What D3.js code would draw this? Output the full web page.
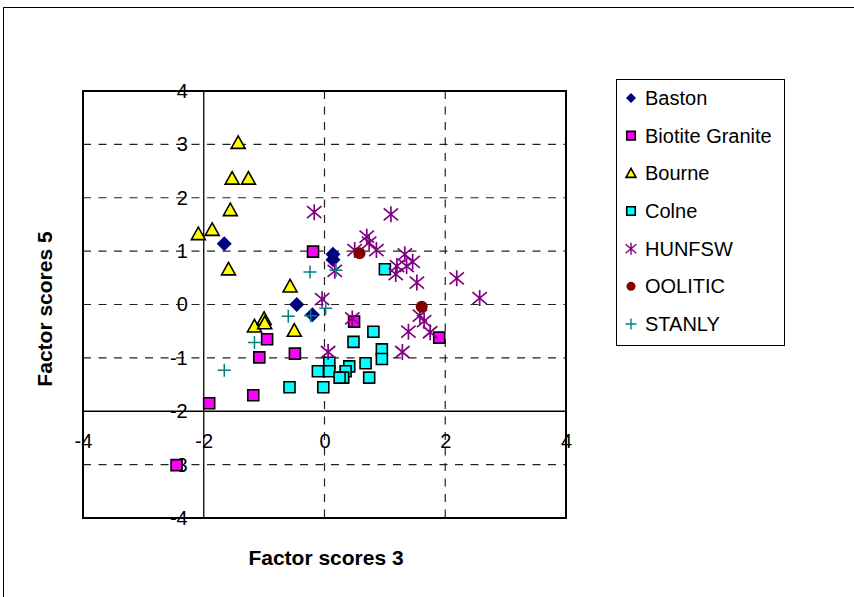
<!DOCTYPE html>
<html>
<head>
<meta charset="utf-8">
<script src="https://cdn.jsdelivr.net/npm/d3@7"></script>
<style>
  html, body { margin: 0; padding: 0; background: #fff; }
  svg { display: block; font-family: Arial, "Liberation Sans", sans-serif; }
</style>
</head>
<body>
<svg id="chart" width="854" height="597"></svg>
<script>
// Factor score pairs [factor 3, factor 5] for each group
const baston = [[-1.66, 1.14], [-0.46, 0.0], [-0.2, -0.19], [0.14, 0.94], [0.14, 0.84]];
const biotiteGranite = [[-0.19, 0.99], [0.49, -0.32], [-0.95, -0.65], [-1.08, -0.99], [-0.49, -0.92],
  [-1.18, -1.70], [-1.91, -1.85], [-2.45, -3.01], [1.90, -0.62]];
const bourne = [[-1.43, 3.03], [-1.53, 2.36], [-1.26, 2.36], [-1.56, 1.77], [-1.86, 1.40], [-2.09, 1.32],
  [-1.59, 0.66], [-0.57, 0.34], [-1.16, -0.41], [-1.0, -0.27], [-0.99, -0.35], [-0.5, -0.49]];
const colne = [[1.0, 0.66], [0.81, -0.51], [0.48, -0.70], [0.95, -0.84], [0.95, -1.02], [0.68, -1.10],
  [0.74, -1.37], [0.08, -1.09], [0.08, -1.25], [-0.11, -1.25], [0.41, -1.16], [0.35, -1.25],
  [0.31, -1.37], [0.25, -1.37], [-0.02, -1.55], [-0.58, -1.55]];
const hunfsw = [[-0.17, 1.73], [1.10, 1.69], [0.70, 1.27], [0.74, 1.16], [0.86, 1.02], [0.50, 1.02],
  [1.33, 0.94], [1.46, 0.80], [1.20, 0.72], [1.36, 0.72], [1.18, 0.57], [1.53, 0.41], [2.19, 0.49],
  [2.57, 0.12], [-0.04, 0.10], [0.17, 0.63], [0.46, -0.26], [1.58, -0.21], [1.65, -0.31],
  [1.39, -0.51], [1.75, -0.52], [1.29, -0.89], [0.06, -0.89]];
const oolitic = [[0.58, 0.96], [1.61, -0.04]];
const stanly = [[-0.24, 0.61], [0.19, 0.64], [0.02, -0.07], [-0.6, -0.22], [-0.23, -0.21],
  [-1.16, -0.71], [-1.66, -1.23]];

const seriesNames = ["Baston", "Biotite Granite", "Bourne", "Colne", "HUNFSW", "OOLITIC", "STANLY"];
const seriesValues = [baston, biotiteGranite, bourne, colne, hunfsw, oolitic, stanly];
const xTicks = [-4, -2, 0, 2, 4];
const yTicks = [-4, -3, -2, -1, 0, 1, 2, 3, 4];

// Marker styles per group
const styles = [
  { shape: "diamond", fill: "#000080", stroke: "none" },
  { shape: "square", fill: "#FF00FF", stroke: "#000" },
  { shape: "triangle", fill: "#FFFF00", stroke: "#000" },
  { shape: "square", fill: "#00FFFF", stroke: "#000" },
  { shape: "star", fill: "none", stroke: "#800080" },
  { shape: "circle", fill: "#800000", stroke: "none" },
  { shape: "plus", fill: "none", stroke: "#008080" }
];

function markerPath(shape, s) {
  const h = s / 2;
  switch (shape) {
    case "diamond": return `M0,${-h}L${h},0L0,${h}L${-h},0Z`;
    case "square": return `M${-h},${-h}H${h}V${h}H${-h}Z`;
    case "triangle": return `M0,${-h}L${h},${h * 0.8}L${-h},${h * 0.8}Z`;
    case "circle": return `M${h},0A${h},${h} 0 1,1 ${-h},0A${h},${h} 0 1,1 ${h},0Z`;
    case "plus": return `M${-h},0H${h}M0,${-h}V${h}`;
    case "star": {
      const d = h * 0.9;
      return `M0,${-h}V${h}M${-d},${-h * 0.75}L${d},${h * 0.75}M${-d},${h * 0.75}L${d},${-h * 0.75}`;
    }
  }
}
const markerSize = { diamond: 15, square: 11, triangle: 14, circle: 12, plus: 13, star: 16 };
const legendSize = { diamond: 10, square: 8.5, triangle: 10, circle: 9, plus: 11, star: 12 };
const strokeW = { diamond: 0, square: 1.6, triangle: 1.6, circle: 0, plus: 1.5, star: 1.7 };

const svg = d3.select("#chart");
const fmt = d => String(d);

// Outer chart frame
svg.append("rect").attr("x", 3.5).attr("y", 7.5).attr("width", 900).attr("height", 700)
  .attr("fill", "none").attr("stroke", "#000").attr("stroke-width", 1);

const x = d3.scaleLinear().domain([-4, 4]).range([83, 566]);
const y = d3.scaleLinear().domain([-4, 4]).range([518, 91]);

// Dashed gridlines
const grid = svg.append("g").attr("stroke", "#222").attr("stroke-width", 1.2)
  .attr("stroke-dasharray", "8,7.5");
grid.selectAll("line.h").data(yTicks.filter(v => v !== -4 && v !== 4 && v !== -2)).join("line")
  .attr("x1", x(-4)).attr("x2", x(4)).attr("y1", d => y(d)).attr("y2", d => y(d));
grid.selectAll("line.v").data(xTicks.filter(v => v === 0 || v === 2)).join("line")
  .attr("class", "v")
  .attr("y1", y(4)).attr("y2", y(-4)).attr("x1", d => x(d)).attr("x2", d => x(d));

// Axis lines crossing at (-2, -2)
svg.append("line").attr("x1", x(-4)).attr("x2", x(4)).attr("y1", y(-2)).attr("y2", y(-2))
  .attr("stroke", "#000").attr("stroke-width", 1.3);
svg.append("line").attr("x1", x(-2)).attr("x2", x(-2)).attr("y1", y(4)).attr("y2", y(-4))
  .attr("stroke", "#000").attr("stroke-width", 1.3);

// Plot border
svg.append("rect").attr("x", x(-4)).attr("y", y(4)).attr("width", x(4) - x(-4)).attr("height", y(-4) - y(4))
  .attr("fill", "none").attr("stroke", "#000").attr("stroke-width", 2);

// Tick labels
const yAxis = d3.axisLeft(y).tickValues(yTicks).tickSize(0).tickPadding(16).tickFormat(fmt);
const yg = svg.append("g").attr("transform", `translate(${x(-2)},0)`).call(yAxis);
yg.select(".domain").remove();
yg.selectAll("text").attr("font-size", 20).attr("fill", "#000")
  .attr("font-family", "Arial, 'Liberation Sans', sans-serif");

const xAxis = d3.axisBottom(x).tickValues(xTicks).tickSize(0).tickPadding(23).tickFormat(fmt);
const xg = svg.append("g").attr("transform", `translate(0,${y(-2)})`).call(xAxis);
xg.select(".domain").remove();
xg.selectAll("text").attr("font-size", 20).attr("fill", "#000")
  .attr("font-family", "Arial, 'Liberation Sans', sans-serif");

// Axis titles
svg.append("text").attr("x", 326).attr("y", 565).attr("text-anchor", "middle")
  .attr("font-size", 21).attr("font-weight", "bold").text("Factor scores 3");
svg.append("text").attr("transform", "translate(52,309) rotate(-90)").attr("text-anchor", "middle")
  .attr("font-size", 21).attr("font-weight", "bold").text("Factor scores 5");

// Points
seriesValues.forEach((pts, i) => {
  const st = styles[i];
  svg.append("g").selectAll("path").data(pts).join("path")
    .attr("transform", d => `translate(${x(d[0])},${y(d[1])})`)
    .attr("d", markerPath(st.shape, markerSize[st.shape]))
    .attr("fill", st.fill).attr("stroke", st.stroke)
    .attr("stroke-width", strokeW[st.shape]);
});

// Legend
const legend = svg.append("g");
legend.append("rect").attr("x", 616.5).attr("y", 79.5).attr("width", 168).attr("height", 266)
  .attr("fill", "#fff").attr("stroke", "#000").attr("stroke-width", 1);
const rowY = d3.scalePoint().domain(seriesNames).range([98, 324]);
seriesNames.forEach((name, i) => {
  const st = styles[i];
  const g = legend.append("g").attr("transform", `translate(631,${rowY(name)})`);
  g.append("path").attr("d", markerPath(st.shape, legendSize[st.shape]))
    .attr("fill", st.fill).attr("stroke", st.stroke)
    .attr("stroke-width", st.shape === "plus" || st.shape === "star" ? 1.4 : strokeW[st.shape]);
  g.append("text").attr("x", 14).attr("y", 7).attr("font-size", 20).text(name);
});
</script>
</body>
</html>
